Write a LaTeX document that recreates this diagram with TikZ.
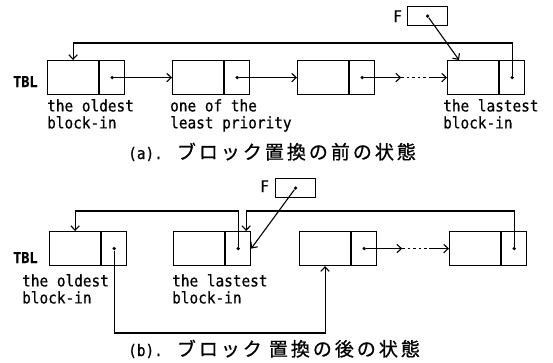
\documentclass[tikz,border=0pt]{standalone}
\usepackage{fontspec}
\usetikzlibrary{arrows.meta,calc}
\newfontfamily\tw[FakeStretch=0.9,FakeBold=0.6]{DejaVu Sans Mono}
\newfontfamily\jp[FakeBold=0.8]{Noto Sans CJK JP}
\newcommand{\js}{\hspace{3pt}}
\begin{document}
\begin{tikzpicture}[x=1pt,y=-1pt,
  cell/.style={draw, line width=1.1pt, inner sep=0pt, minimum height=34pt},
  dcell/.style={cell, minimum width=51pt, anchor=north west},
  pcell/.style={cell, minimum width=25pt, anchor=west},
  fbox/.style={draw, line width=1.1pt, inner sep=0pt, minimum width=40pt, minimum height=19pt, anchor=north west},
  dot/.style={circle, fill, inner sep=0pt, minimum size=3.6pt},
  wire/.style={line width=1.1pt},
  link/.style={wire, -{Straight Barb[length=4.5pt,width=8.5pt,line width=1.1pt]}},
  dots/.style={wire, dash pattern=on 2.5pt off 3pt},
  lbl/.style={font=\tw\fontsize{16}{17}\selectfont, align=left, inner sep=0pt, anchor=north west},
  tbl/.style={font=\tw\bfseries\fontsize{15}{17}\selectfont, inner sep=0pt, anchor=base west},
  flbl/.style={font=\tw\fontsize{16}{17}\selectfont, inner sep=0pt, anchor=base west},
  capt/.style={font=\fontsize{19}{20}\selectfont, inner sep=0pt, anchor=base west}]
\useasboundingbox (0,0) rectangle (553,362);

% ---------- (a) ----------
\node[tbl] (tbla) at (13,87) {TBL};
\foreach \n/\x in {1/47,2/172,3/297,4/447}{
  \node[dcell] (a\n d) at (\x,60) {};
  \node[pcell] (a\n p) at (a\n d.east) {};
  \node[dot] (a\n x) at (a\n p.center) {};
}
\node[fbox] (fa) at (407,6) {};
\node[dot] (fax) at (fa.center) {};
\node[flbl] (fla) at (393,22) {F};

\draw[link] (a1x) -- (a2d.west);
\draw[link] (a2x) -- (a3d.west);
\coordinate (a3m) at ($(a3x)+(39,0)$);
\coordinate (a3n) at ($(a3x)+(67,0)$);
\draw[link] (a3x) -- (a3m);
\draw[dots] (a3m) -- (a3n);
\draw[link] (a3n) -- (a4d.west);
\coordinate (ta) at (0,43);
\draw[link] (a4x) -- (a4x |- ta) -| (a1d.north);
\coordinate (a4t) at ($(a4d.north west)+(12,0)$);
\draw[link] (fax) -- (a4t);

\node[lbl] (la1) at (47,99) {the oldest\\block-in};
\node[lbl] (la2) at (170,99) {one of the\\least priority};
\node[lbl] (la4) at (443,99) {the lastest\\block-in};

\node[capt] (capa) at (128,159) {{\tw\fontsize{16}{17}\selectfont (a).}\hspace{14pt}{\jp ブ\js ロ\js ッ\js ク\js 置\js 換\js の\js 前\js の\js 状\js 態}};

% ---------- (b) ----------
\node[tbl] (tblb) at (13,263) {TBL};
\foreach \n/\x in {1/49,2/173,3/299,4/449}{
  \node[dcell] (b\n d) at (\x,231) {};
  \node[pcell] (b\n p) at (b\n d.east) {};
  \node[dot] (b\n x) at (b\n p.center) {};
}
\node[fbox] (fb) at (275,178) {};
\node[dot] (fbx) at (fb.center) {};
\node[flbl] (flb) at (260,192) {F};

\coordinate (b3m) at ($(b3x)+(38,0)$);
\coordinate (b3n) at ($(b3x)+(65,0)$);
\draw[link] (b3x) -- (b3m);
\draw[dots] (b3m) -- (b3n);
\draw[link] (b3n) -- (b4d.west);
\coordinate (tb) at (0,211);
\draw[link] (b2x) -- (b2x |- tb) -| (b1d.north);
\coordinate (b2t) at ($(b2p.north)+(8,0)$);
\draw[link] (b4x) -- (b4x |- tb) -| (b2t);
\draw[link] (fbx) -- (b2p.east);
\coordinate (bb) at (0,333);
\draw[link] (b1x) -- (b1x |- bb) -| (b3d.south);

\node[lbl] (lb1) at (22,274) {the oldest\\block-in};
\node[lbl] (lb2) at (172,274) {the lastest\\block-in};

\node[capt] (capb) at (128,356) {{\tw\fontsize{16}{17}\selectfont (b).}\hspace{14pt}{\jp ブ\js ロ\js ッ\js ク\hspace{7pt}置\js 換\js の\js 後\js の\js 状\js 態}};
\end{tikzpicture}
\end{document}
